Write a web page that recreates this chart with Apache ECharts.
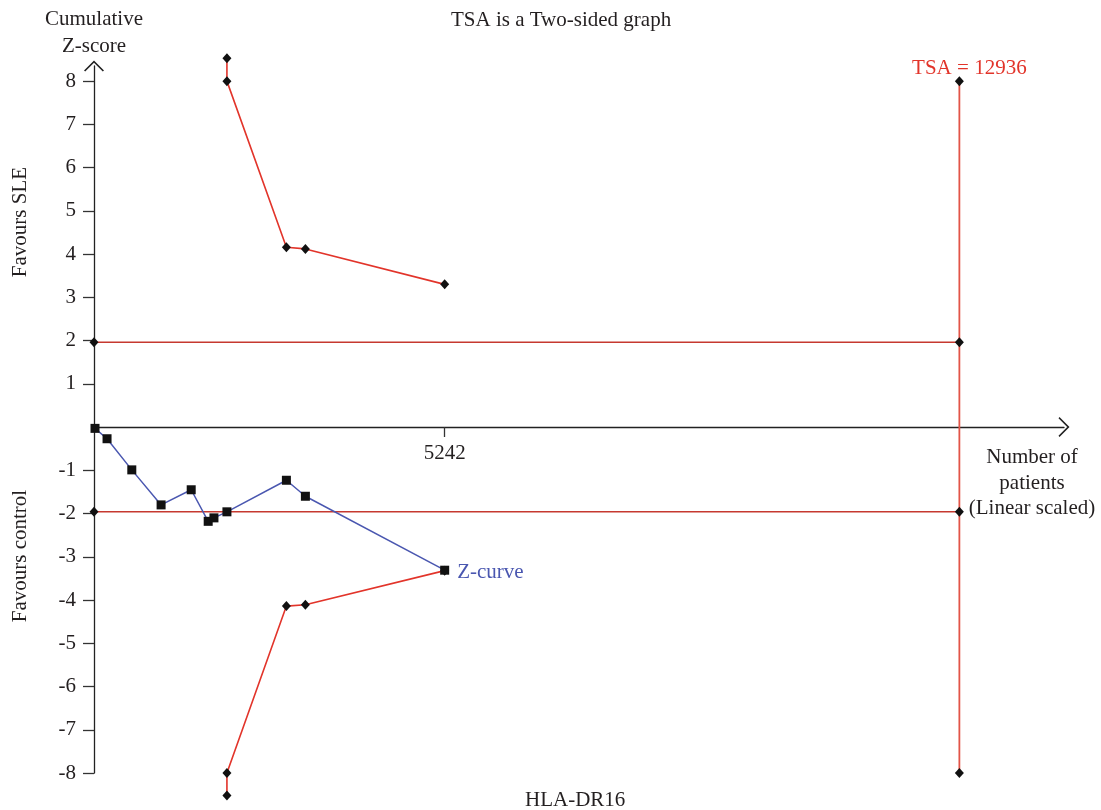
<!DOCTYPE html>
<html>
<head>
<meta charset="utf-8">
<title>TSA HLA-DR16</title>
<script src="https://cdn.jsdelivr.net/npm/echarts@6/dist/echarts.min.js"></script>
<style>
  html, body { margin: 0; padding: 0; background: #fff; }
  #main { width: 1101px; height: 810px; }
</style>
</head>
<body>
<div id="main"></div>
<script>
// cumulative number of patients and z-values
const zCurveN = [15, 195, 565, 1003, 1453, 1707, 1793, 1987, 2876, 3160, 5242];
const zCurveZ = [-0.03, -0.27, -0.99, -1.8, -1.45, -2.18, -2.1, -1.96, -1.23, -1.6, -3.31];

// trial sequential monitoring boundaries
const boundaryN = [1987, 1987, 2876, 3160, 5242];
const upperZ = [8.53, 8.0, 4.16, 4.12, 3.30];
const lowerZ = [-8.52, -8.0, -4.14, -4.11, -3.32];

const conventionalZ = 1.96;
const requiredSize = 12936;
const tsaSpan = [-8, 8];

const xTicks = [5242];
const yTickLabels = [-8, -7, -6, -5, -4, -3, -2, -1, 1, 2, 3, 4, 5, 6, 7, 8];

const FONT = '"Liberation Serif", "DejaVu Serif", serif';
const FS = 21;
const TXT = '#231f20';
const RED = '#e2342a';
const RED_DARK = '#c6392f';
const RED_TSA = '#e25447';
const BLUE = '#4a57b0';

const pairs = (xs, ys) => xs.map((x, i) => [x, ys[i]]);
const chevron = 'path://M0,10 L10,0 L20,10 L18.8,11 L10,2.3 L1.2,11 Z';

window.onload = function () {
  const dom = document.getElementById('main');
  const myChart = echarts.init(dom);

  const diamond = {
    symbol: 'diamond',
    symbolSize: [9, 10],
    itemStyle: { color: '#111' }
  };

  const option = {
    animation: false,
    textStyle: { fontFamily: FONT },
    title: [
      {
        text: 'TSA is a Two-sided graph',
        left: 446, top: 5,
        textStyle: { fontFamily: FONT, fontSize: FS, fontWeight: 'normal', color: TXT }
      },
      {
        text: 'HLA-DR16',
        left: 520, top: 785,
        textStyle: { fontFamily: FONT, fontSize: FS, fontWeight: 'normal', color: TXT }
      }
    ],
    grid: { left: 94, right: 37, top: 66, bottom: 37, containLabel: false },
    xAxis: {
      type: 'value',
      min: 0,
      max: 14500,
      position: 'bottom',
      // the x axis sits at z = 0 (346px above the grid bottom)
      offset: -346,
      splitLine: { show: false },
      axisLine: {
        onZero: false,
        lineStyle: { color: '#222', width: 1.3 },
        symbol: ['none', chevron],
        symbolSize: [20, 11]
      },
      axisTick: { customValues: xTicks, length: 10, lineStyle: { color: '#333', width: 1.3 } },
      axisLabel: {
        customValues: xTicks,
        margin: 16,
        formatter: v => String(v),
        fontFamily: FONT, fontSize: FS, color: TXT
      }
    },
    yAxis: {
      type: 'value',
      min: -8,
      max: 8.35,
      name: 'Cumulative\nZ-score',
      nameLocation: 'end',
      nameGap: 6,
      nameTextStyle: { fontFamily: FONT, fontSize: FS, color: TXT, lineHeight: 27, align: 'center' },
      splitLine: { show: false },
      axisLine: {
        onZero: false,
        lineStyle: { color: '#222', width: 1.3 },
        symbol: ['none', chevron],
        symbolSize: [20, 11]
      },
      axisTick: { customValues: yTickLabels, length: 11, lineStyle: { color: '#333', width: 1.3 } },
      axisLabel: {
        customValues: yTickLabels,
        margin: 18,
        fontFamily: FONT, fontSize: FS, color: TXT
      }
    },
    graphic: [
      {
        type: 'text', x: 20, y: 222, rotation: Math.PI / 2,
        style: { text: 'Favours SLE', font: FS + 'px ' + FONT, fill: TXT, align: 'center', verticalAlign: 'middle' }
      },
      {
        type: 'text', x: 20, y: 556, rotation: Math.PI / 2,
        style: { text: 'Favours control', font: FS + 'px ' + FONT, fill: TXT, align: 'center', verticalAlign: 'middle' }
      },
      {
        type: 'text', x: 1032, y: 445,
        style: {
          text: 'Number of\npatients\n(Linear scaled)',
          font: FS + 'px ' + FONT, fill: TXT, align: 'center', verticalAlign: 'top', lineHeight: 25.5
        }
      }
    ],
    series: [
      {
        name: 'Conventional upper',
        type: 'line',
        clip: false,
        data: [[0, conventionalZ], [requiredSize, conventionalZ]],
        lineStyle: { color: RED_DARK, width: 1.5 },
        ...diamond
      },
      {
        name: 'Conventional lower',
        type: 'line',
        clip: false,
        data: [[0, -conventionalZ], [requiredSize, -conventionalZ]],
        lineStyle: { color: RED_DARK, width: 1.5 },
        ...diamond
      },
      {
        name: 'TSA',
        type: 'line',
        clip: false,
        data: [
          [requiredSize, tsaSpan[0]],
          {
            value: [requiredSize, tsaSpan[1]],
            label: {
              show: true,
              position: 'top',
              distance: 6,
              offset: [10, 9],
              formatter: 'TSA = ' + requiredSize,
              fontFamily: FONT, fontSize: FS, color: RED
            }
          }
        ],
        lineStyle: { color: RED_TSA, width: 1.8 },
        ...diamond
      },
      {
        name: 'Upper boundary',
        type: 'line',
        clip: false,
        data: pairs(boundaryN, upperZ),
        lineStyle: { color: RED, width: 1.6 },
        ...diamond
      },
      {
        name: 'Lower boundary',
        type: 'line',
        clip: false,
        data: pairs(boundaryN, lowerZ),
        lineStyle: { color: RED, width: 1.6 },
        ...diamond
      },
      {
        name: 'Z-curve',
        type: 'line',
        clip: false,
        z: 5,
        data: pairs(zCurveN, zCurveZ).map((p, i, arr) => i === arr.length - 1 ? {
          value: p,
          label: {
            show: true,
            position: 'right',
            distance: 8,
            offset: [0, 2],
            formatter: 'Z-curve',
            fontFamily: FONT, fontSize: FS, color: BLUE
          }
        } : p),
        symbol: 'rect',
        symbolSize: 9,
        itemStyle: { color: '#111' },
        lineStyle: { color: BLUE, width: 1.5 }
      }
    ]
  };

  if (option && typeof option === 'object') {
    myChart.setOption(option, true);
  }
};
</script>
</body>
</html>
